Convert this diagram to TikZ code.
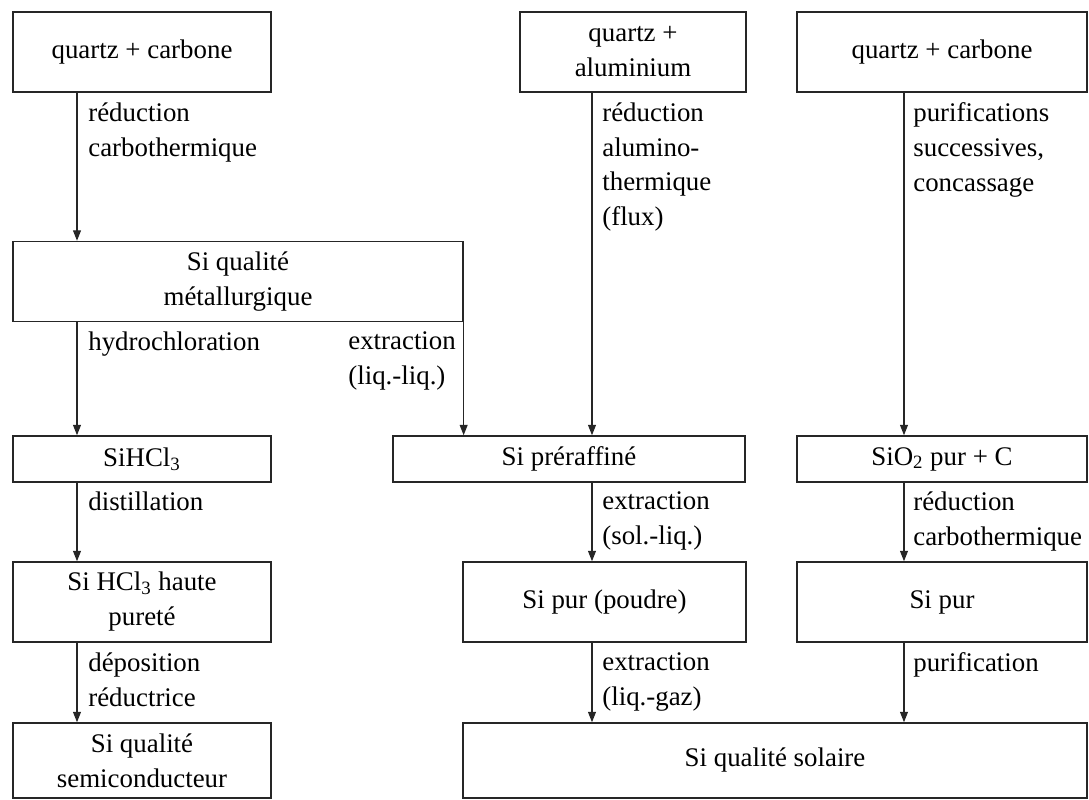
\documentclass[tikz,border=0pt]{standalone}
\usepackage{fontspec}
\setmainfont{Liberation Serif}
\usepackage{tikz}
\usetikzlibrary{arrows.meta}

\tikzset{
  box/.style={draw=black!85, line width=0.8pt, inner sep=0pt, align=center},
  lab/.style={anchor=north west, inner sep=0pt, align=left},
  flow/.style={draw=black!85, line width=0.8pt, -{Triangle[width=4.5pt,length=6pt]}}
}

\begin{document}
\begin{tikzpicture}[x=0.02cm,y=-0.02cm,font=\fontsize{15.3pt}{19.9pt}\selectfont]
\useasboundingbox (0,0) rectangle (1089,800);

% columns of the arrows
\coordinate (c1) at (77,0);
\coordinate (c2) at (592,0);
\coordinate (c3) at (904,0);

% raw materials
\node[box, minimum width=5.16cm, minimum height=1.6cm] (qc1) at (142,52) {quartz + carbone};
\node[box, minimum width=4.52cm, minimum height=1.6cm] (qal) at (633,52) {quartz +\\aluminium};
\node[box, minimum width=5.8cm, minimum height=1.6cm] (qc2) at (942,52) {quartz + carbone};

\node[box, minimum width=9cm, minimum height=1.6cm] (simet) at (238,281.5) {Si qualité\\métallurgique};

% intermediate products
\node[box, minimum width=5.16cm, minimum height=0.92cm] (sihcl) at (142,459) {SiHCl\textsubscript{3}};
\node[box, minimum width=7.04cm, minimum height=0.92cm] (sipre) at (569,459) {Si préraffiné};
\node[box, minimum width=5.8cm, minimum height=0.92cm] (sio2) at (942,459) {SiO\textsubscript{2} pur + C};

\node[box, minimum width=5.16cm, minimum height=1.6cm] (sihp) at (142,602) {Si HCl\textsubscript{3} haute\\pureté};
\node[box, minimum width=5.66cm, minimum height=1.6cm] (sipp) at (604.5,602) {Si pur (poudre)};
\node[box, minimum width=5.8cm, minimum height=1.6cm] (sipur) at (942,602) {Si pur};

% final grades
\node[box, minimum width=5.16cm, minimum height=1.5cm] (sisemi) at (142,760.5) {Si qualité\\semiconducteur};
\node[box, minimum width=12.48cm, minimum height=1.5cm] (sisol) at (775,760.5) {Si qualité solaire};

% connectors
\draw[flow] (qc1.south -| c1) -- (simet.north -| c1);
\draw[flow] (qal.south -| c2) -- (sipre.north -| c2);
\draw[flow] (qc2.south -| c3) -- (sio2.north -| c3);
\draw[flow] (simet.south -| c1) -- (sihcl.north -| c1);
\draw[flow] (simet.south east) -- (sipre.north -| simet.east);
\draw[flow] (sihcl.south -| c1) -- (sihp.north -| c1);
\draw[flow] (sipre.south -| c2) -- (sipp.north -| c2);
\draw[flow] (sio2.south -| c3) -- (sipur.north -| c3);
\draw[flow] (sihp.south -| c1) -- (sisemi.north -| c1);
\draw[flow] (sipp.south -| c2) -- (sisol.north -| c2);
\draw[flow] (sipur.south -| c3) -- (sisol.north -| c3);

% process labels
\node[lab] (l1) at (88,102) {réduction\\carbothermique};
\node[lab] (l2) at (602,102) {réduction\\alumino-\\thermique\\(flux)};
\node[lab] (l3) at (913,102) {purifications\\successives,\\concassage};
\node[lab] (l4) at (88,331) {hydrochloration};
\node[lab] (l5) at (348,331) {extraction\\(liq.-liq.)};
\node[lab] (l6) at (88,491) {distillation};
\node[lab] (l7) at (602,491) {extraction\\(sol.-liq.)};
\node[lab] (l8) at (913,491) {réduction\\carbothermique};
\node[lab] (l9) at (88,652) {déposition\\réductrice};
\node[lab] (l10) at (602,652) {extraction\\(liq.-gaz)};
\node[lab] (l11) at (913,652) {purification};
\end{tikzpicture}
\end{document}
